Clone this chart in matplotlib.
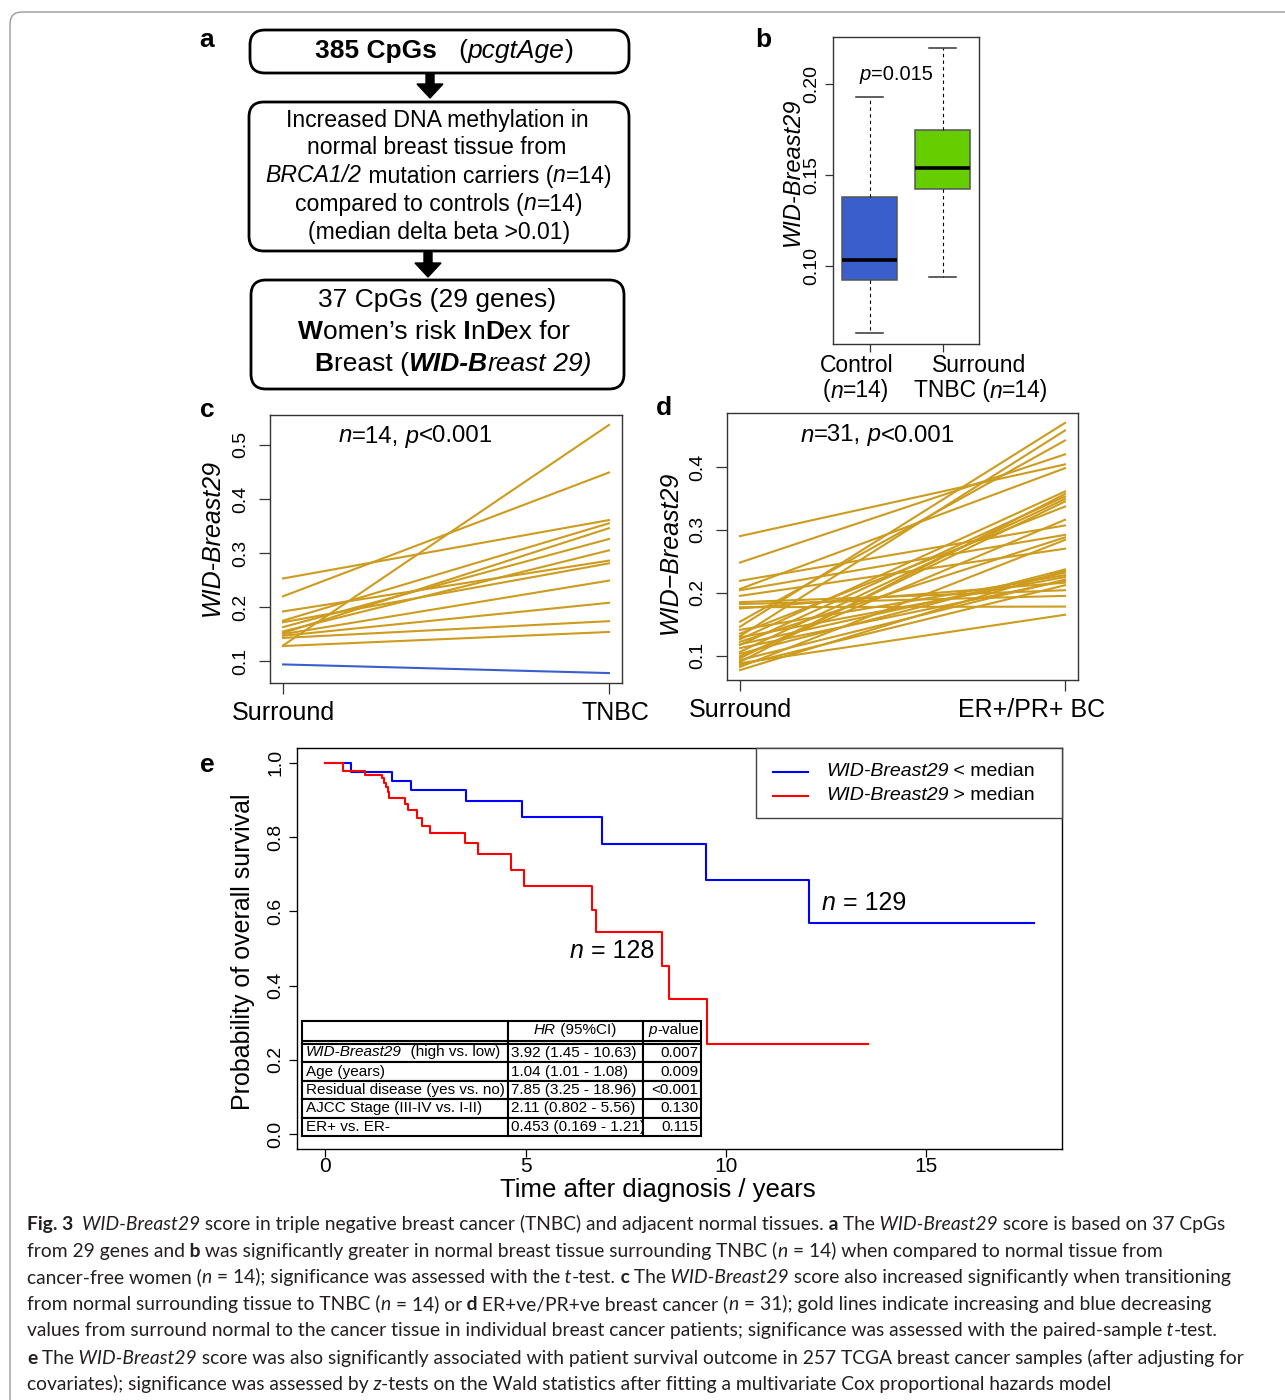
import matplotlib
matplotlib.use("Agg")
import matplotlib.pyplot as plt
from matplotlib.patches import FancyBboxPatch, FancyArrow, Rectangle
from matplotlib.offsetbox import TextArea, HPacker, AnnotationBbox
from matplotlib.transforms import ScaledTranslation

W, H = 1285, 1400
SANS = "Liberation Sans"
CAP = "Lato"
plt.rcParams["font.family"] = SANS

GOLD = "#CD9B1D"
DOWN_BLUE = "#3A5FCD"

# ── b: boxplot summary (Control vs Surround TNBC) ───────────────────────────
b_whislo = [0.063, 0.0939]
b_q1 = [0.0923, 0.1425]
b_med = [0.1033, 0.1536]
b_q3 = [0.1376, 0.175]
b_whishi = [0.1928, 0.2199]
b_colors = ["#3A5FCD", "#66CD00"]

# ── c: paired Surround -> TNBC ─────────────────────────────────────────────
c_surround = [0.253, 0.220, 0.129, 0.192, 0.175, 0.172, 0.163, 0.155, 0.152, 0.150, 0.147, 0.143, 0.128, 0.094]
c_tnbc = [0.361, 0.449, 0.537, 0.286, 0.355, 0.281, 0.326, 0.305, 0.346, 0.249, 0.208, 0.174, 0.154, 0.078]

# ── d: paired Surround -> ER+/PR+ BC ───────────────────────────────────────
d_surround = [0.290, 0.248, 0.219, 0.206, 0.204, 0.195, 0.185, 0.182, 0.177, 0.175, 0.154,
              0.146, 0.141, 0.135, 0.131, 0.129, 0.126, 0.122, 0.118, 0.117, 0.112, 0.106,
              0.103, 0.099, 0.096, 0.093, 0.090, 0.088, 0.085, 0.082, 0.077]
d_tumour = [0.404, 0.420, 0.307, 0.398, 0.292, 0.270, 0.204, 0.195, 0.178, 0.216, 0.442,
            0.470, 0.228, 0.337, 0.458, 0.225, 0.361, 0.288, 0.232, 0.353, 0.219, 0.349,
            0.237, 0.316, 0.345, 0.221, 0.357, 0.165, 0.212, 0.284, 0.235]

# ── e: Kaplan-Meier ────────────────────────────────────────────────────────
low_t = [0, 0.65, 1.66, 2.15, 3.52, 4.92, 6.92, 9.50, 12.08, 17.69]
low_s = [1.0, 0.975, 0.951, 0.928, 0.898, 0.853, 0.782, 0.685, 0.570, 0.570]
high_t = [0, 0.43, 0.98, 1.41, 1.47, 1.52, 1.56, 1.60, 1.98, 2.06, 2.28, 2.42, 2.62, 3.49,
          3.81, 4.63, 4.96, 6.66, 6.76, 8.42, 8.58, 9.53, 13.55]
high_s = [1.0, 0.979, 0.968, 0.958, 0.946, 0.934, 0.921, 0.905, 0.890, 0.872, 0.852, 0.831,
          0.811, 0.785, 0.755, 0.711, 0.667, 0.605, 0.544, 0.454, 0.364, 0.242, 0.242]

cov_names = ["WID-Breast29 (high vs. low)", "Age (years)", "Residual disease (yes vs. no)",
             "AJCC Stage (III-IV vs. I-II)", "ER+ vs. ER-"]
hr_ci = ["3.92 (1.45 - 10.63)", "1.04 (1.01 - 1.08)", "7.85 (3.25 - 18.96)",
         "2.11 (0.802 - 5.56)", "0.453 (0.169 - 1.21)"]
p_vals = ["0.007", "0.009", "<0.001", "0.130", "0.115"]

caption = [
    [("Fig. 3", "b"), ("  ", ""), ("WID-Breast29", "i"),
     (" score in triple negative breast cancer (TNBC) and adjacent normal tissues. ", ""),
     ("a", "b"), (" The ", ""), ("WID-Breast29", "i"), (" score is based on 37 CpGs", "")],
    [("from 29 genes and ", ""), ("b", "b"),
     (" was significantly greater in normal breast tissue surrounding TNBC (", ""), ("n", "i"),
     (" = 14) when compared to normal tissue from", "")],
    [("cancer-free women (", ""), ("n", "i"), (" = 14); significance was assessed with the ", ""),
     ("t", "i"), ("-test. ", ""), ("c", "b"), (" The ", ""), ("WID-Breast29", "i"),
     (" score also increased significantly when transitioning", "")],
    [("from normal surrounding tissue to TNBC (", ""), ("n", "i"), (" = 14) or ", ""), ("d", "b"),
     (" ER+ve/PR+ve breast cancer (", ""), ("n", "i"),
     (" = 31); gold lines indicate increasing and blue decreasing", "")],
    [("values from surround normal to the cancer tissue in individual breast cancer patients; "
      "significance was assessed with the paired-sample ", ""), ("t", "i"), ("-test.", "")],
    [("e", "b"), (" The ", ""), ("WID-Breast29", "i"),
     (" score was also significantly associated with patient survival outcome in 257 TCGA "
      "breast cancer samples (after adjusting for", "")],
    [("covariates); significance was assessed by ", ""), ("z", "i"),
     ("-tests on the Wald statistics after fitting a multivariate Cox proportional hazards model", "")],
]


def rect(l, t, r, b):
    return [l / W, 1 - b / H, (r - l) / W, (b - t) / H]


fig = plt.figure(figsize=(W / 100, H / 100), dpi=100)

# overlay axes in pixel units, drawn on top of the panels
bg = fig.add_axes([0, 0, 1, 1])
bg.set_xlim(0, W)
bg.set_ylim(H, 0)
bg.axis("off")
bg.patch.set_visible(False)
bg.set_zorder(5)


def rich(x, y, parts, size, ha="center", family=SANS, color="black"):
    boxes, carry = [], ""
    for txt, sty in parts:
        txt = carry + txt
        core = txt.rstrip(" ")
        carry = txt[len(core):]
        props = dict(fontsize=size, family=family, color=color,
                     fontweight="bold" if "b" in sty else "normal",
                     fontstyle="italic" if "i" in sty else "normal")
        boxes.append(TextArea(core, textprops=props))
    pack = HPacker(children=boxes, align="baseline", pad=0, sep=0)
    frac = {"left": 0, "center": 0.5, "right": 1}[ha]
    bg.add_artist(AnnotationBbox(pack, (x, y), xycoords="data", frameon=False, pad=0,
                                 box_alignment=(frac, 0.5)))


def r_style(ax, spine_col="#333333"):
    for sp in ax.spines.values():
        sp.set_color(spine_col)
        sp.set_linewidth(1.0)
    ax.tick_params(axis="y", labelrotation=90)
    for lab in ax.get_yticklabels():
        lab.set_va("center")


def r_limits(vals, frac=0.04):
    lo, hi = min(vals), max(vals)
    pad = (hi - lo) * frac
    return lo - pad, hi + pad


def shift_label(lab, dx_px):
    lab.set_transform(lab.get_transform() + ScaledTranslation(dx_px / 100, 0, fig.dpi_scale_trans))


# outer frame
bg.add_patch(FancyBboxPatch((10, 12), 1400, 1500, boxstyle="round,pad=0,rounding_size=12",
                            fc="none", ec="#9a9a9a", lw=1))

# ── a: flow chart ───────────────────────────────────────────────────────────
for (x0, y0, x1, y1) in [(250, 30, 629, 73), (249, 102, 629, 251), (251, 280, 624, 389)]:
    bg.add_patch(FancyBboxPatch((x0, y0), x1 - x0, y1 - y0, boxstyle="round,pad=0,rounding_size=15",
                                fc="white", ec="black", lw=2))
bg.add_patch(FancyArrow(430, 74, 0, 24, width=8, head_width=26, head_length=14,
                        length_includes_head=True, color="black"))
bg.add_patch(FancyArrow(428, 252, 0, 25, width=8, head_width=26, head_length=14,
                        length_includes_head=True, color="black"))
rich(444, 51, [("385 CpGs", "b"), ("   (", ""), ("pcgtAge", "i"), (")", "")], 19)
rich(437, 120, [("Increased DNA methylation in", "")], 16.6)
rich(437, 148, [("normal breast tissue from", "")], 16.6)
rich(439, 176, [("BRCA1/2", "i"), (" mutation carriers (", ""), ("n", "i"), ("=14)", "")], 16.6)
rich(439, 204, [("compared to controls (", ""), ("n", "i"), ("=14)", "")], 16.6)
rich(439, 232, [("(median delta beta >0.01)", "")], 16.6)
rich(437, 300, [("37 CpGs (29 genes)", "")], 19)
rich(434, 332, [("W", "b"), ("omen\u2019s risk ", ""), ("I", "b"), ("n", ""), ("D", "b"), ("ex for", "")], 19)
rich(453, 364, [("B", "b"), ("reast (", ""), ("WID-B", "bi"), ("reast", "i"), (" 29)", "i")], 19)

for lab, (x, y) in zip("abcde", [(207, 40), (763, 40), (207, 410), (664, 408), (207, 765)]):
    bg.text(x, y, lab, fontsize=19, fontweight="bold", ha="center", va="center")

# ── b ───────────────────────────────────────────────────────────────────────
ax_b = fig.add_axes(rect(833, 37, 979, 344))
stats = [dict(whislo=lo, q1=q1, med=m, q3=q3, whishi=hi, fliers=[])
         for lo, q1, m, q3, hi in zip(b_whislo, b_q1, b_med, b_q3, b_whishi)]
bp = ax_b.bxp(stats, positions=[1, 2], widths=0.75, patch_artist=True, showfliers=False,
              boxprops=dict(edgecolor="#555555", linewidth=1.1),
              medianprops=dict(color="black", linewidth=2.6, solid_capstyle="butt"),
              whiskerprops=dict(color="black", linestyle=(0, (3, 3)), linewidth=0.8),
              capprops=dict(color="#333333", linewidth=1.1))
for patch, col in zip(bp["boxes"], b_colors):
    patch.set_facecolor(col)
ax_b.set_xlim(0.5, 2.5)
ax_b.set_ylim(*r_limits(b_whislo + b_whishi))
ax_b.set_xticks([1, 2], ["", ""])
ax_b.set_yticks([0.10, 0.15, 0.20], ["0.10", "0.15", "0.20"], fontsize=14)
ax_b.tick_params(length=6, width=0.9, pad=3, color="#333333")
r_style(ax_b)
ax_b.set_ylabel("WID-Breast29", fontsize=17, style="italic")
ax_b.yaxis.label.set_va("center")
ax_b.yaxis.set_label_coords(792, 172, transform=bg.transData)
rich(896, 75, [("p", "i"), ("=0.015", "")], 14.5)
rich(857, 366, [("Control", "")], 16.5)
rich(856, 391, [("(", ""), ("n", "i"), ("=14)", "")], 16.5)
rich(979, 366, [("Surround", "")], 16.5)
rich(981, 391, [("TNBC (", ""), ("n", "i"), ("=14)", "")], 16.5)


# ── c / d paired lines ─────────────────────────────────────────────────────
def paired(ax, before, after, xlabels, ticks, ylabel):
    for s, t in zip(before, after):
        ax.plot([1, 2], [s, t], color=GOLD if t > s else DOWN_BLUE, lw=1.5)
    ax.set_xlim(0.96, 2.04)
    ax.set_ylim(*r_limits(before + after))
    ax.set_xticks([1, 2], xlabels, fontsize=18)
    ax.set_yticks(ticks, [f"{v:.1f}" for v in ticks], fontsize=14)
    ax.tick_params(axis="y", length=8, width=0.9, pad=7, color="#333333")
    ax.tick_params(axis="x", length=8, width=0.9, pad=5, color="#333333")
    r_style(ax)
    ax.set_ylabel(ylabel, fontsize=18, style="italic")
    ax.yaxis.label.set_va("center")


ax_c = fig.add_axes(rect(270, 415, 622, 683))
paired(ax_c, c_surround, c_tnbc, ["Surround", "TNBC"], [0.1, 0.2, 0.3, 0.4, 0.5], "WID-Breast29")
ax_c.yaxis.set_label_coords(212, 538, transform=bg.transData)
shift_label(ax_c.get_xticklabels()[1], 6)
rich(416, 436, [("n", "i"), ("=14, ", ""), ("p", "i"), ("<0.001", "")], 17.3)

ax_d = fig.add_axes(rect(727, 413, 1078, 680))
paired(ax_d, d_surround, d_tumour, ["Surround", "ER+/PR+ BC"], [0.1, 0.2, 0.3, 0.4], "WID\u2212Breast29")
ax_d.yaxis.set_label_coords(670, 552, transform=bg.transData)
shift_label(ax_d.get_xticklabels()[1], -33)
rich(878, 435, [("n", "i"), ("=31, ", ""), ("p", "i"), ("<0.001", "")], 17.3)

# ── e: survival ─────────────────────────────────────────────────────────────
ax_e = fig.add_axes(rect(297, 748, 1062, 1149))
ax_e.step(low_t, low_s, where="post", color="#0000FF", lw=1.5)
ax_e.step(high_t, high_s, where="post", color="#FF0000", lw=1.5)
ax_e.set_xlim(*r_limits(low_t + high_t))
ax_e.set_ylim(-0.04, 1.04)
ax_e.set_xticks([0, 5, 10, 15], ["0", "5", "10", "15"], fontsize=15)
ax_e.set_yticks([0, 0.2, 0.4, 0.6, 0.8, 1.0], ["0.0", "0.2", "0.4", "0.6", "0.8", "1.0"], fontsize=14)
ax_e.tick_params(length=6, width=0.9, pad=3)
ax_e.tick_params(axis="x", pad=0)
r_style(ax_e, "black")
ax_e.set_ylabel("Probability of overall survival", fontsize=18)
ax_e.yaxis.label.set_va("center")
ax_e.yaxis.set_label_coords(243, 952, transform=bg.transData)
ax_e.set_xlabel("Time after diagnosis / years", fontsize=18.5)
ax_e.xaxis.label.set_va("center")
ax_e.xaxis.set_label_coords(658, 1190, transform=bg.transData)

# legend
bg.add_patch(Rectangle((756, 748), 306, 70, fc="white", ec="#444444", lw=1))
bg.plot([773, 808], [772, 772], color="#0000FF", lw=1.5)
bg.plot([773, 808], [796, 796], color="#FF0000", lw=1.5)
rich(826, 772, [("WID-Breast29", "i"), (" < median", "")], 14, ha="left")
rich(826, 796, [("WID-Breast29", "i"), (" > median", "")], 14, ha="left")
rich(822, 903, [("n", "i"), (" = 129", "")], 18, ha="left")
rich(570, 951, [("n", "i"), (" = 128", "")], 18, ha="left")

# Cox table
tax = fig.add_axes(rect(302, 1021, 701, 1136))
tax.axis("off")
cells = [["", "", ""]] + [["" if i == 0 else n, h, p]
                          for i, (n, h, p) in enumerate(zip(cov_names, hr_ci, p_vals))]
tbl = tax.table(cellText=cells, colWidths=[206 / 399, 135 / 399, 58 / 399],
                bbox=[0, 0, 1, 1], cellLoc="left")
tbl.auto_set_font_size(False)
tbl.set_fontsize(11)
pads = [0.02, 0.022, 0.05]
for (r, c), cell in tbl.get_celld().items():
    cell.set_linewidth(1.5)
    cell.set_edgecolor("black")
    cell.set_height(23 if r == 0 else 18.4)
    cell.PAD = pads[c]
    cell.get_text().set_fontfamily(SANS)
    if c == 2:
        cell._loc = "right"
        cell.get_text().set_ha("right")
tax.axhline((1136 - 1041) / 115, color="black", lw=1.5)
rich(575, 1030, [("HR", "i"), (" (95%CI)", "")], 11)
rich(699, 1030, [("p", "i"), ("-value", "")], 11, ha="right")
rich(306, 1052, [("WID-Breast29", "i"), ("  (high vs. low)", "")], 11, ha="left")

# ── caption ────────────────────────────────────────────────────────────────
for i, line in enumerate(caption):
    rich(27, 1224 + i * 26.7, line, 13.85, ha="left", family=CAP, color="#231F20")

fig.savefig("out.png", dpi=100)
